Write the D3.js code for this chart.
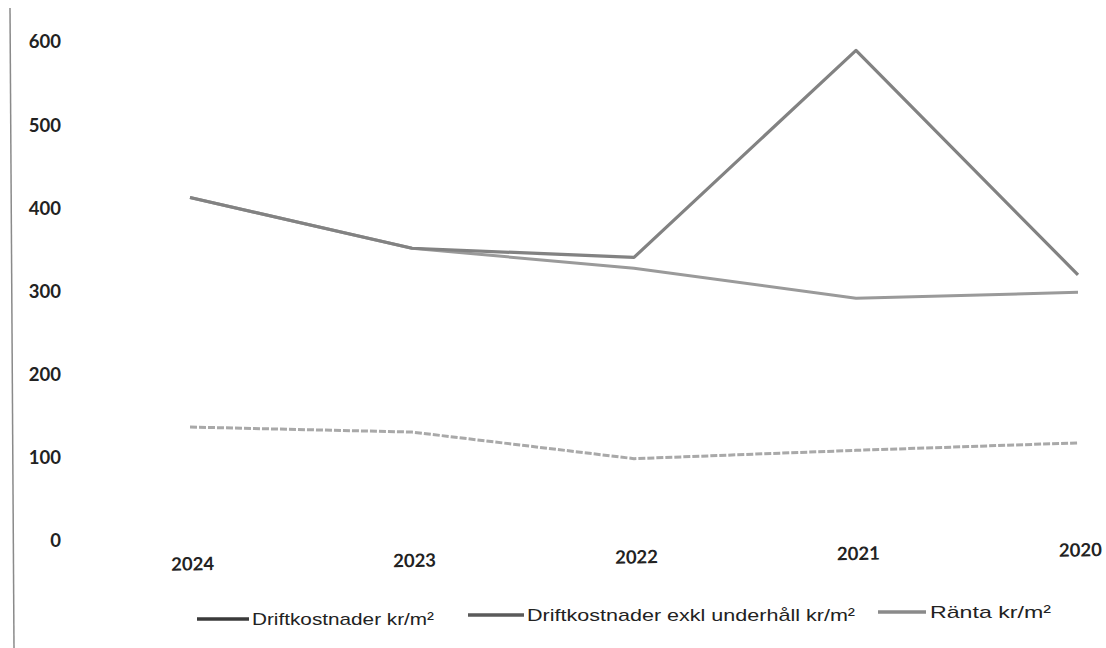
<!DOCTYPE html>
<html><head><meta charset="utf-8">
<script src="https://cdn.jsdelivr.net/npm/d3@7/dist/d3.min.js"></script>
<style>
html,body{margin:0;padding:0;background:#fff;}
svg{display:block;}
</style></head>
<body>
<svg id="chart" width="1106" height="648"></svg>
<script>
const years = ["2024","2023","2022","2021","2020"];
const drift = [413, 352, 341, 590, 320];
const driftExkl = [413, 352, 328, 292, 299];
const ranta = [137, 131, 99, 109, 118];
const yTicks = [0,100,200,300,400,500,600];
const seriesNames = ["Driftkostnader kr/m²","Driftkostnader exkl underhåll kr/m²","Ränta kr/m²"];

const svg = d3.select("#chart");
const x = d3.scalePoint().domain(years).range([190, 1078]);
const y = d3.scaleLinear().domain([0,600]).range([541, 42]);

// scanned left edge line
svg.append("line").attr("x1",10).attr("y1",8).attr("x2",14).attr("y2",648)
  .attr("stroke","#8a8a8a").attr("stroke-width",1.5);

const yAxis = svg.append("g").attr("transform","translate(61,0)")
  .call(d3.axisLeft(y).tickValues(yTicks).tickSize(0).tickPadding(0));
yAxis.select(".domain").remove();
yAxis.selectAll("text").attr("font-family","Lato, 'Open Sans', sans-serif")
  .attr("font-weight","bold").attr("font-size",18.5).attr("fill","#222");

const xAxis = svg.append("g").attr("transform","translate(2,557) rotate(-0.9 634 0)")
  .call(d3.axisBottom(x).tickSize(0).tickPadding(0));
xAxis.select(".domain").remove();
xAxis.selectAll("text").attr("font-family","Lato, 'Open Sans', sans-serif")
  .attr("font-weight","bold").attr("font-size",18.5).attr("fill","#222").attr("dy","0.35em");

const line = d3.line().x((d,i)=>x(years[i])).y(d=>y(d));
const series = [
  {vals: ranta, color:"#a9a9a9", dash:"7 2", w:3},
  {vals: driftExkl, color:"#9a9a9a", dash:null, w:3},
  {vals: drift, color:"#828282", dash:null, w:3.2}
];
series.forEach(s=>{
  svg.append("path").datum(s.vals).attr("d",line).attr("fill","none")
    .attr("stroke",s.color).attr("stroke-width",s.w).attr("stroke-linejoin","round")
    .attr("stroke-dasharray",s.dash);
});

// legend
const legendItems = [
  {name:seriesNames[0], color:"#3a3a3a", x1:197, x2:249, tx:252, len:182, y:619},
  {name:seriesNames[1], color:"#5a5a5a", x1:468, x2:524, tx:527, len:328, y:615},
  {name:seriesNames[2], color:"#8a8a8a", x1:878, x2:926, tx:930, len:121, y:612}
];
const lg = svg.append("g");
legendItems.forEach(d=>{
  lg.append("line").attr("x1",d.x1).attr("x2",d.x2).attr("y1",d.y).attr("y2",d.y)
    .attr("stroke",d.color).attr("stroke-width",3.5);
  lg.append("text").attr("x",d.tx).attr("y",d.y).attr("dy","0.35em")
    .attr("font-family","'Liberation Sans Narrow', 'Liberation Sans', sans-serif")
    .attr("font-size",17).attr("fill","#222")
    .attr("textLength",d.len).attr("lengthAdjust","spacingAndGlyphs").text(d.name);
});
</script>
</body></html>
